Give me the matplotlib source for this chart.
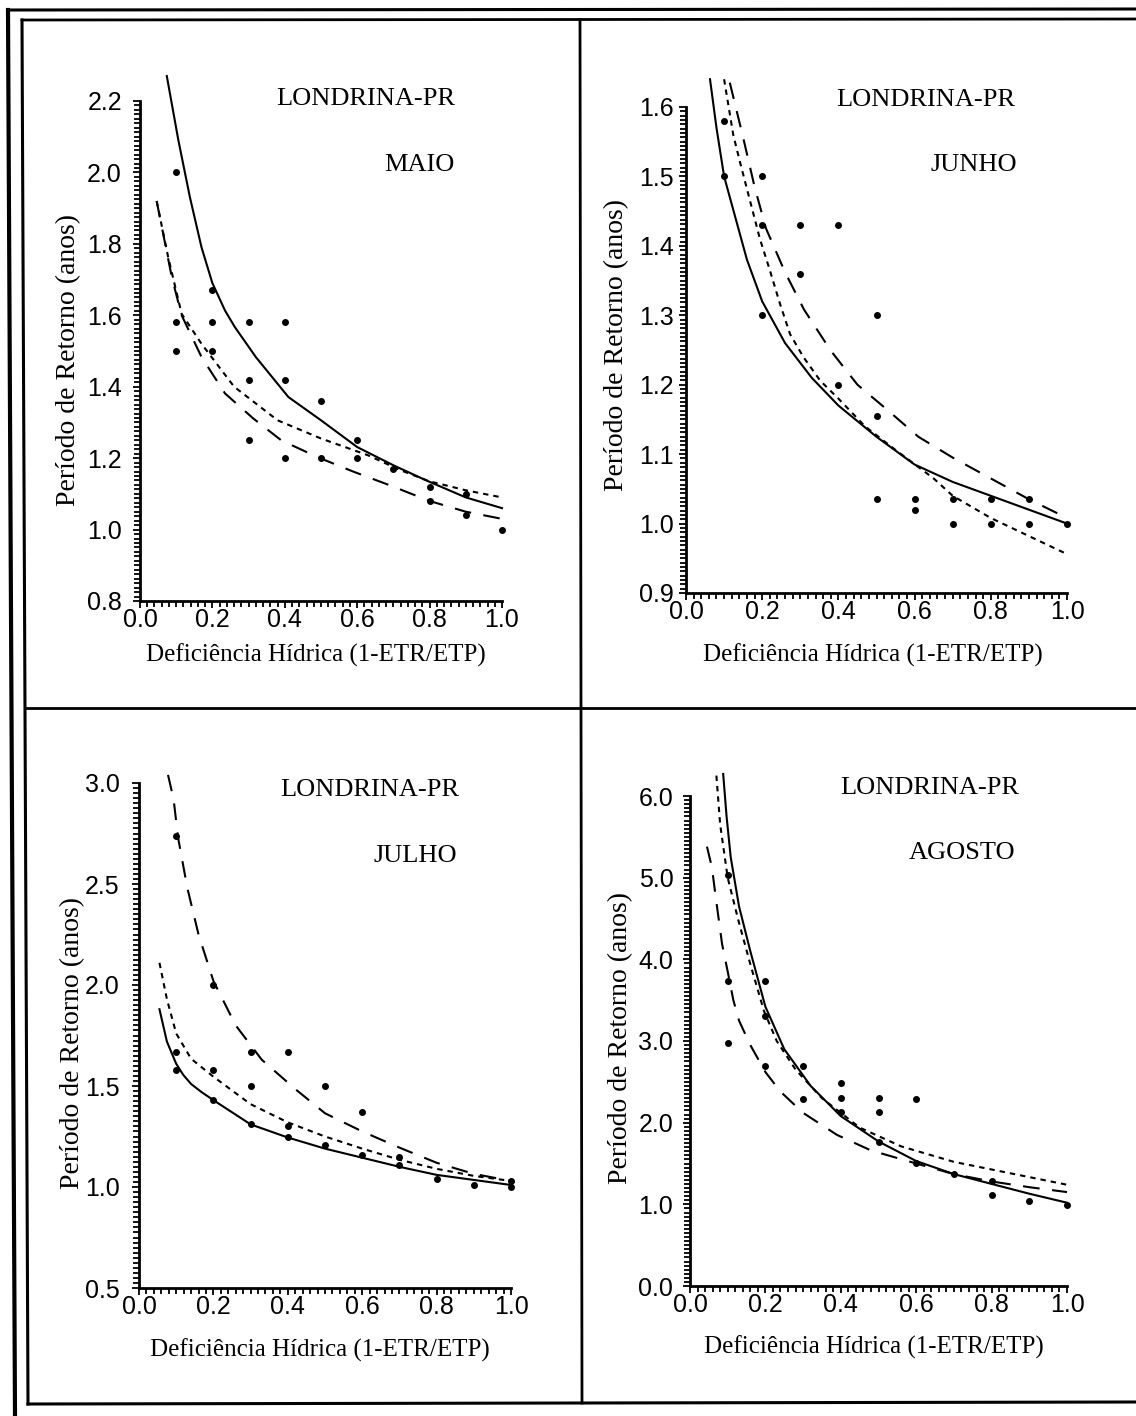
import matplotlib
matplotlib.use("Agg")
import matplotlib.pyplot as plt
from matplotlib.lines import Line2D
from matplotlib.ticker import MultipleLocator, FormatStrFormatter

W, H = 1136, 1416

# ---- MAIO ----
maio_pts_x = [0.1, 0.1, 0.1, 0.2, 0.2, 0.2, 0.3, 0.3, 0.3, 0.4, 0.4, 0.4, 0.5, 0.5,
              0.6, 0.6, 0.7, 0.8, 0.8, 0.9, 0.9, 1.0]
maio_pts_y = [2.0, 1.58, 1.5, 1.67, 1.58, 1.5, 1.58, 1.42, 1.25, 1.58, 1.42, 1.2, 1.36, 1.2,
              1.25, 1.2, 1.17, 1.12, 1.08, 1.1, 1.04, 1.0]
maio_solid_x = [0.074, 0.106, 0.138, 0.17, 0.2, 0.235, 0.262, 0.32, 0.41, 0.5, 0.6, 0.7, 0.79, 0.9, 1.0]
maio_solid_y = [2.27, 2.09, 1.93, 1.79, 1.69, 1.613, 1.567, 1.483, 1.371, 1.306, 1.231, 1.18, 1.138,
                1.09, 1.06]
maio_short_x = [0.046, 0.078, 0.115, 0.17, 0.26, 0.38, 0.5, 0.63, 0.72, 0.8, 0.9, 1.0]
maio_short_y = [1.92, 1.762, 1.604, 1.52, 1.40, 1.306, 1.255, 1.208, 1.166, 1.135, 1.11, 1.09]
maio_long_x = [0.046, 0.088, 0.115, 0.17, 0.235, 0.313, 0.39, 0.49, 0.59, 0.69, 0.8, 0.9, 1.0]
maio_long_y = [1.92, 1.706, 1.60, 1.483, 1.381, 1.311, 1.25, 1.203, 1.162, 1.124, 1.08, 1.05, 1.03]

# ---- JUNHO ----
junho_pts_x = [0.1, 0.1, 0.2, 0.2, 0.2, 0.3, 0.3, 0.4, 0.4, 0.5, 0.5, 0.5, 0.6, 0.6,
               0.7, 0.7, 0.8, 0.8, 0.9, 0.9, 1.0]
junho_pts_y = [1.58, 1.5, 1.5, 1.43, 1.3, 1.43, 1.36, 1.43, 1.2, 1.3, 1.155, 1.035, 1.035, 1.02,
               1.035, 1.0, 1.035, 1.0, 1.035, 1.0, 1.0]
junho_solid_x = [0.063, 0.08, 0.10, 0.13, 0.16, 0.2, 0.26, 0.33, 0.4, 0.5, 0.6, 0.7, 0.8, 0.9, 1.0]
junho_solid_y = [1.64, 1.57, 1.50, 1.44, 1.38, 1.32, 1.26, 1.21, 1.17, 1.125, 1.085, 1.06, 1.04, 1.02, 1.0]
junho_short_x = [0.10, 0.124, 0.142, 0.168, 0.194, 0.22, 0.247, 0.273, 0.308, 0.352, 0.4, 0.47,
                 0.55, 0.65, 0.7, 0.8, 0.9, 1.0]
junho_short_y = [1.64, 1.56, 1.52, 1.465, 1.41, 1.365, 1.316, 1.273, 1.24, 1.206, 1.18, 1.14,
                 1.106, 1.065, 1.04, 1.008, 0.982, 0.956]
junho_long_x = [0.115, 0.15, 0.18, 0.21, 0.26, 0.31, 0.38, 0.45, 0.53, 0.61, 0.7, 0.8, 0.9, 1.0]
junho_long_y = [1.635, 1.556, 1.485, 1.425, 1.362, 1.308, 1.249, 1.20, 1.163, 1.125, 1.095, 1.065, 1.035, 1.008]

# ---- JULHO ----
julho_pts_x = [0.1, 0.1, 0.1, 0.2, 0.2, 0.2, 0.3, 0.3, 0.3, 0.4, 0.4, 0.4, 0.5, 0.5,
               0.6, 0.6, 0.7, 0.7, 0.8, 0.9, 1.0, 1.0]
julho_pts_y = [2.74, 1.67, 1.58, 2.0, 1.58, 1.43, 1.67, 1.5, 1.31, 1.67, 1.3, 1.25, 1.5, 1.21,
               1.37, 1.16, 1.15, 1.11, 1.04, 1.01, 1.03, 1.0]
julho_solid_x = [0.055, 0.075, 0.1, 0.119, 0.14, 0.168, 0.2, 0.3, 0.4, 0.5, 0.6, 0.7, 0.8, 0.9, 1.0]
julho_solid_y = [1.88, 1.72, 1.61, 1.555, 1.51, 1.47, 1.43, 1.31, 1.245, 1.19, 1.145, 1.10, 1.06, 1.035, 1.01]
julho_short_x = [0.055, 0.075, 0.1, 0.14, 0.2, 0.3, 0.4, 0.5, 0.6, 0.7, 0.8, 0.9, 1.0]
julho_short_y = [2.11, 1.93, 1.76, 1.635, 1.546, 1.41, 1.32, 1.25, 1.19, 1.135, 1.09, 1.055, 1.03]
julho_long_x = [0.078, 0.093, 0.105, 0.13, 0.16, 0.2, 0.26, 0.33, 0.42, 0.5, 0.6, 0.7, 0.8, 0.9, 1.0]
julho_long_y = [3.04, 2.92, 2.73, 2.48, 2.25, 2.02, 1.80, 1.63, 1.485, 1.365, 1.275, 1.195, 1.12, 1.065, 1.03]

# ---- AGOSTO ----
agosto_pts_x = [0.1, 0.1, 0.1, 0.2, 0.2, 0.2, 0.3, 0.3, 0.4, 0.4, 0.4, 0.5, 0.5, 0.5,
                0.6, 0.6, 0.7, 0.8, 0.8, 0.9, 1.0]
agosto_pts_y = [5.03, 3.74, 2.98, 3.74, 3.31, 2.70, 2.70, 2.29, 2.49, 2.30, 2.13, 2.30, 2.13, 1.76,
                2.29, 1.51, 1.37, 1.29, 1.12, 1.04, 0.99]
agosto_solid_x = [0.088, 0.097, 0.108, 0.13, 0.16, 0.2, 0.25, 0.32, 0.4, 0.5, 0.6, 0.7, 0.8, 0.9, 1.0]
agosto_solid_y = [6.27, 5.75, 5.25, 4.65, 4.1, 3.42, 2.9, 2.45, 2.08, 1.77, 1.53, 1.37, 1.25, 1.13, 1.02]
agosto_short_x = [0.07, 0.08, 0.1, 0.127, 0.16, 0.196, 0.23, 0.28, 0.35, 0.45, 0.56, 0.7, 0.85, 1.0]
agosto_short_y = [6.25, 5.65, 5.0, 4.5, 3.94, 3.37, 3.0, 2.65, 2.30, 1.94, 1.71, 1.52, 1.38, 1.24]
agosto_long_x = [0.045, 0.058, 0.07, 0.085, 0.1, 0.115, 0.13, 0.16, 0.2, 0.24, 0.3, 0.39, 0.48,
                 0.6, 0.7, 0.8, 0.9, 1.0]
agosto_long_y = [5.38, 5.13, 4.7, 4.19, 3.85, 3.5, 3.25, 2.95, 2.62, 2.38, 2.12, 1.85, 1.66,
                 1.50, 1.37, 1.28, 1.21, 1.15]

x_ticks = [0.0, 0.2, 0.4, 0.6, 0.8, 1.0]
station = "LONDRINA-PR"
x_title = "Deficiência Hídrica (1-ETR/ETP)"
y_title = "Período de Retorno (anos)"

# layout in pixels of the 1136x1416 page
panels = [
    dict(month="MAIO", box=(140, 101, 502, 601), ylim=(0.8, 2.2), ystep=0.2, yminor=0.0125,
         pts=(maio_pts_x, maio_pts_y), solid=(maio_solid_x, maio_solid_y),
         short=(maio_short_x, maio_short_y), long=(maio_long_x, maio_long_y), ypad=8,
         title=(455, 99), mon=(455, 165), xl=(316, 655), yl=(69, 360)),
    dict(month="JUNHO", box=(686, 107, 1067, 593), ylim=(0.9, 1.6), ystep=0.1, yminor=0.00625,
         pts=(junho_pts_x, junho_pts_y), solid=(junho_solid_x, junho_solid_y),
         short=(junho_short_x, junho_short_y), long=(junho_long_x, junho_long_y), ypad=4,
         title=(1015, 100), mon=(1017, 165), xl=(873, 655), yl=(617, 345)),
    dict(month="JULHO", box=(139, 783, 511, 1288), ylim=(0.5, 3.0), ystep=0.5, yminor=0.025,
         pts=(julho_pts_x, julho_pts_y), solid=(julho_solid_x, julho_solid_y),
         short=(julho_short_x, julho_short_y), long=(julho_long_x, julho_long_y), ypad=9,
         title=(459, 790), mon=(457, 856), xl=(320, 1350), yl=(73, 1043)),
    dict(month="AGOSTO", box=(690, 796, 1067, 1286), ylim=(0.0, 6.0), ystep=1.0, yminor=0.05,
         pts=(agosto_pts_x, agosto_pts_y), solid=(agosto_solid_x, agosto_solid_y),
         short=(agosto_short_x, agosto_short_y), long=(agosto_long_x, agosto_long_y), ypad=7,
         title=(1019, 788), mon=(1015, 853), xl=(874, 1347), yl=(621, 1038)),
]

serif = ["Liberation Serif", "DejaVu Serif"]
sans = ["Liberation Sans", "DejaVu Sans"]

fig = plt.figure(figsize=(W / 100, H / 100), dpi=100)
fig.patch.set_facecolor("white")


def fx(x):
    return x / W


def fy(y):
    return 1 - y / H


for p in panels:
    l, t, r, b = p["box"]
    ax = fig.add_axes([fx(l), fy(b), (r - l) / W, (b - t) / H])
    ax.set_xlim(0, 1.0)
    ax.set_ylim(*p["ylim"])
    for s in ["top", "right"]:
        ax.spines[s].set_visible(False)
    for s in ["left", "bottom"]:
        ax.spines[s].set_linewidth(2.0)

    ax.set_xticks(x_ticks)
    ax.xaxis.set_minor_locator(MultipleLocator(0.02))
    ax.yaxis.set_major_locator(MultipleLocator(p["ystep"]))
    ax.yaxis.set_minor_locator(MultipleLocator(p["yminor"]))
    ax.xaxis.set_major_formatter(FormatStrFormatter("%.1f"))
    ax.yaxis.set_major_formatter(FormatStrFormatter("%.1f"))
    ax.tick_params(which="both", direction="out", width=1.3, color="black")
    ax.tick_params(which="major", length=5)
    ax.tick_params(which="minor", length=4)
    ax.tick_params(axis="x", which="major", pad=0, labelsize=18)
    ax.tick_params(axis="y", which="major", pad=p["ypad"], labelsize=18)
    for lab in ax.get_xticklabels() + ax.get_yticklabels():
        lab.set_family(sans)

    ax.plot(*p["solid"], color="black", lw=1.5, clip_on=False)
    ax.plot(*p["short"], color="black", lw=1.5, linestyle=(0, (2.6, 2.4)), clip_on=False)
    ax.plot(*p["long"], color="black", lw=1.5, linestyle=(0, (8, 6)), clip_on=False)
    ax.plot(*p["pts"], linestyle="none", marker="o", ms=4, color="black", clip_on=False)

    fig.text(fx(p["title"][0]), fy(p["title"][1]), station, ha="right", va="center",
             fontsize=19, family=serif)
    fig.text(fx(p["mon"][0]), fy(p["mon"][1]), p["month"], ha="right", va="center",
             fontsize=19, family=serif)
    fig.text(fx(p["xl"][0]), fy(p["xl"][1]), x_title, ha="center", va="center",
             fontsize=18, family=serif)
    fig.text(fx(p["yl"][0]), fy(p["yl"][1]), y_title, ha="center", va="center",
             rotation=90, fontsize=20, family=serif)

# page frame (scanned border) and panel dividers
frame = [
    ((8, 10), (15, 1416), 3.0),
    ((8, 10), (1136, 9), 2.2),
    ((22, 20), (28, 1404), 2.2),
    ((22, 20), (1136, 19), 2.0),
    ((28, 1404), (1136, 1402), 2.2),
    ((580, 20), (582, 1403), 2.0),
    ((25, 708), (1136, 708), 2.0),
]
for (x0, y0), (x1, y1), lw in frame:
    fig.add_artist(Line2D([fx(x0), fx(x1)], [fy(y0), fy(y1)], color="black", lw=lw,
                          transform=fig.transFigure))

fig.savefig("out.png", dpi=100)
